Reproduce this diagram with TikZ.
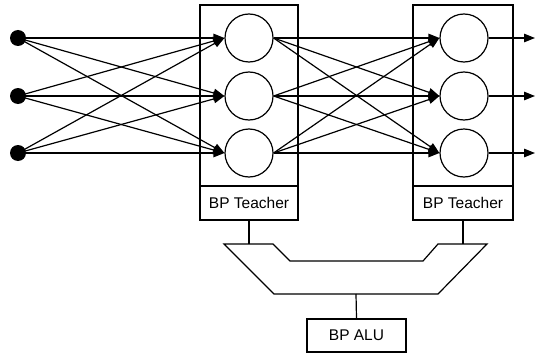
\documentclass[tikz,border=0pt]{standalone}
\usepackage{fontspec}
\setmainfont{Liberation Sans}
\usetikzlibrary{arrows.meta}
\begin{document}
\begin{tikzpicture}[x=1pt,y=-1pt,line width=1.2pt,
  neuron/.style={circle,draw,minimum size=48pt,inner sep=0pt},
  inp/.style={circle,fill=black,minimum size=16pt,inner sep=0pt},
  conn/.style={-{Triangle[length=11pt,width=8.5pt]}},
  lbl/.style={font=\fontsize{15.5}{17}\selectfont,inner sep=0pt}]
\useasboundingbox (0,0) rectangle (537,353);
% boxes
\draw (200,5) rectangle (298,220);
\draw (200,186) -- (298,186);
\draw (413,5) rectangle (513,220);
\draw (413,186) -- (513,186);
\node[lbl] (t1) at (249,203) {BP Teacher};
\node[lbl] (t2) at (463,203) {BP Teacher};
% inputs
\foreach \i/\y in {1/38,2/96,3/153}{
  \node[inp] (i\i) at (18,\y) {};
  \node[neuron] (h\i) at (249,\y) {};
  \node[neuron] (o\i) at (464,\y) {};
  \coordinate (e\i) at (535,\y);
}
\foreach \a in {1,2,3}{
  \foreach \b in {1,2,3}{
    \draw[conn] (i\a.center) -- (h\b.west);
    \draw[conn] (h\a.east) -- (o\b.west);
  }
  \draw[conn] (o\a.east) -- (e\a);
}
% bus
\coordinate (b1) at (249,244);
\coordinate (b2) at (463,244);
\draw (249,220) -- (b1);
\draw (463,220) -- (b2);
\draw (224,244) -- (273,244) -- (290,261) -- (423,261) -- (438,244) -- (487,244) -- (438,294) -- (274,294) -- cycle;
\node[draw,minimum width=99pt,minimum height=33pt,inner sep=0pt,lbl] (alu) at (356.5,335.5) {BP ALU};
\draw (356,294) -- (alu.north);
\end{tikzpicture}
\end{document}
